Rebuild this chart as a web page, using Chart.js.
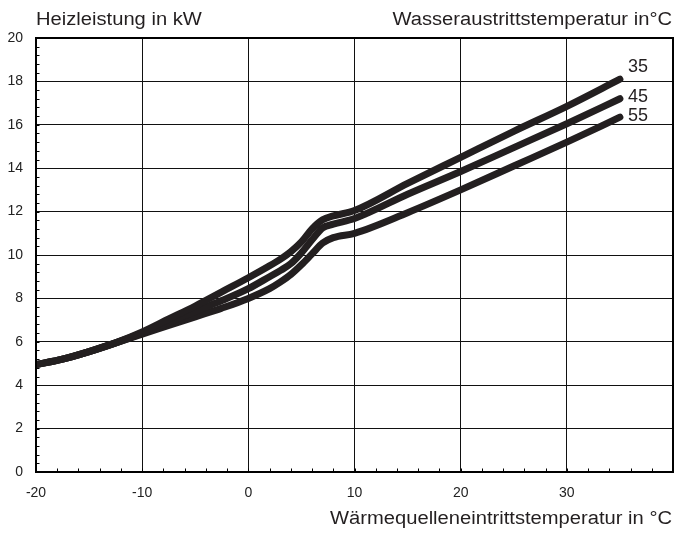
<!DOCTYPE html>
<html>
<head>
<meta charset="utf-8">
<script src="https://cdn.jsdelivr.net/npm/chart.js@4/dist/chart.umd.min.js"></script>
<style>
  html, body { margin: 0; padding: 0; background: #fff; }
  #wrap { width: 678px; height: 534px; position: relative; }
</style>
</head>
<body>
<div id="wrap"><canvas id="c" width="678" height="534"></canvas></div>
<script>
// Wärmequelleneintrittstemperatur (°C)
const sourceTemps = [-20, -17.5, -15, -12.5, -10, -7.5, -5, -2.5, 0, 2, 3, 4, 5, 6, 7, 8, 10, 15, 20, 25, 30, 35];
// Heizleistung (kW) je Wasseraustrittstemperatur
const heat35 = [4.95, 5.2, 5.55, 5.95, 6.45, 7.05, 7.65, 8.3, 8.95, 9.5, 9.8, 10.15, 10.6, 11.2, 11.62, 11.8, 12.05, 13.3, 14.5, 15.7, 16.85, 18.1];
const heat45 = [4.95, 5.2, 5.55, 5.95, 6.4, 6.9, 7.4, 7.9, 8.45, 9.0, 9.28, 9.6, 10.1, 10.7, 11.25, 11.42, 11.68, 12.8, 13.85, 14.95, 16.05, 17.2];
const heat55 = [4.95, 5.2, 5.55, 5.95, 6.35, 6.75, 7.15, 7.55, 8.0, 8.45, 8.75, 9.1, 9.55, 10.05, 10.55, 10.8, 11.0, 11.95, 13.0, 14.1, 15.2, 16.35];
const seriesNames = ['35', '45', '55'];
const xTickValues = [-20, -10, 0, 10, 20, 30];
const yTickValues = [0, 2, 4, 6, 8, 10, 12, 14, 16, 18, 20];
const titleY = 'Heizleistung in kW';
const titleLegend = 'Wasseraustrittstemperatur in°C';
const titleX = 'Wärmequelleneintrittstemperatur in °C';

const FONT = '"Liberation Sans", Arial, Helvetica, sans-serif';
const INK = '#231f20';

function toPoints(ys) { return sourceTemps.map((x, i) => ({ x: x, y: ys[i] })); }

const seriesData = [heat35, heat45, heat55];
const labelOffsets = [-7, 3, 4]; // vertical label nudges (px) relative to line end

const datasets = seriesData.map((ys, i) => ({
  label: seriesNames[i],
  data: toPoints(ys),
  borderColor: INK,
  backgroundColor: INK,
  borderWidth: 7,
  pointRadius: 0,
  fill: false,
  cubicInterpolationMode: 'monotone',
  borderCapStyle: 'round',
  borderJoinStyle: 'round'
}));

const decorPlugin = {
  id: 'decor',
  beforeDraw(chart) {
    const ctx = chart.ctx;
    ctx.save();
    ctx.fillStyle = '#fff';
    ctx.fillRect(0, 0, chart.width, chart.height);
    ctx.restore();
  },
  beforeDatasetsDraw(chart) {
    const ctx = chart.ctx;
    const { left, right, top, bottom } = chart.chartArea;
    const xs = chart.scales.x, ys = chart.scales.y;
    ctx.save();
    ctx.strokeStyle = '#000';
    ctx.lineWidth = 1;
    for (let v = 0; v <= 20.001; v += 0.4) {
      const py = Math.round(ys.getPixelForValue(v)) + 0.5;
      ctx.beginPath(); ctx.moveTo(left, py); ctx.lineTo(left + 3.5, py); ctx.stroke();
    }
    for (let v = -20; v <= 40; v += 2) {
      const px = Math.round(xs.getPixelForValue(v)) + 0.5;
      ctx.beginPath(); ctx.moveTo(px, bottom); ctx.lineTo(px, bottom - 3.5); ctx.stroke();
    }
    ctx.restore();
  },
  afterDatasetsDraw(chart) {
    const ctx = chart.ctx;
    const { left, right, top, bottom } = chart.chartArea;
    const xs = chart.scales.x, ys = chart.scales.y;
    ctx.save();
    ctx.strokeStyle = '#000';
    ctx.lineWidth = 2;
    ctx.strokeRect(left, top, right - left, bottom - top);
    ctx.fillStyle = INK;
    ctx.textBaseline = 'alphabetic';
    ctx.font = '18px ' + FONT;
    const sx = 1.12;
    ctx.save(); ctx.translate(left, 25); ctx.scale(sx, 1);
    ctx.textAlign = 'left'; ctx.fillText(titleY, 0, 0); ctx.restore();
    ctx.save(); ctx.translate(672, 25); ctx.scale(sx, 1);
    ctx.textAlign = 'right'; ctx.fillText(titleLegend, 0, 0); ctx.restore();
    ctx.save(); ctx.translate(672, 524); ctx.scale(sx, 1);
    ctx.textAlign = 'right'; ctx.fillText(titleX, 0, 0); ctx.restore();
    ctx.textAlign = 'left';
    ctx.font = '18px ' + FONT;
    chart.data.datasets.forEach((ds, i) => {
      const last = ds.data[ds.data.length - 1];
      const px = xs.getPixelForValue(last.x) + 8;
      const py = ys.getPixelForValue(last.y) + labelOffsets[i];
      ctx.fillText(ds.label, px, py);
    });
    ctx.restore();
  }
};

new Chart(document.getElementById('c'), {
  type: 'line',
  data: { datasets: datasets },
  options: {
    responsive: false,
    animation: false,
    devicePixelRatio: 1,
    layout: { padding: { left: 0, right: 5, top: 38, bottom: 0 } },
    plugins: { legend: { display: false }, tooltip: { enabled: false }, title: { display: false } },
    scales: {
      x: {
        type: 'linear',
        min: -20, max: 40,
        afterFit(s) { s.height = 62; s.paddingLeft = 0; s.paddingRight = 0; },
        afterBuildTicks(s) { s.ticks = xTickValues.concat([40]).map(v => ({ value: v })); },
        ticks: {
          padding: 13,
          color: '#222',
          font: { family: FONT, size: 14 },
          maxRotation: 0,
          autoSkip: false,
          callback: (v) => xTickValues.includes(v) ? String(v) : ''
        },
        grid: { color: '#111', lineWidth: 1, drawTicks: false },
        border: { display: true, color: '#000', width: 2 }
      },
      y: {
        type: 'linear',
        min: 0, max: 20,
        afterFit(s) { s.width = 36; s.paddingTop = 0; s.paddingBottom = 0; },
        afterBuildTicks(s) { s.ticks = yTickValues.map(v => ({ value: v })); },
        ticks: {
          padding: 13,
          color: '#222',
          font: { family: FONT, size: 14 },
          autoSkip: false,
          callback: (v) => String(v)
        },
        grid: { color: '#111', lineWidth: 1, drawTicks: false },
        border: { display: true, color: '#000', width: 2 }
      }
    }
  },
  plugins: [decorPlugin]
});
</script>
</body>
</html>
